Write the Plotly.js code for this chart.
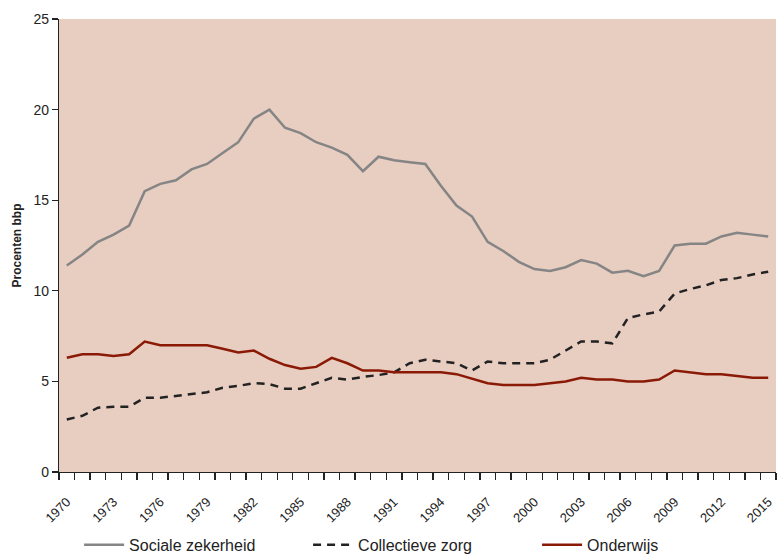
<!DOCTYPE html>
<html>
<head>
<meta charset="utf-8">
<script src="https://cdn.plot.ly/plotly-3.0.1.min.js"></script>
<style>
  html, body { margin: 0; padding: 0; background: #fff; }
  #chart { width: 777px; height: 554px; }
</style>
</head>
<body>
<div id="chart"></div>
<script>
// jaren 1970-2015
const years = [];
for (let y = 1970; y <= 2015; y++) years.push(y);

const tickYears = [1970, 1973, 1976, 1979, 1982, 1985, 1988, 1991, 1994, 1997,
  2000, 2003, 2006, 2009, 2012, 2015];

const socialeZekerheid = [11.4, 12.0, 12.7, 13.1, 13.6, 15.5, 15.9, 16.1, 16.7, 17.0,
  17.6, 18.2, 19.5, 20.0, 19.0, 18.7, 18.2, 17.9, 17.5, 16.6,
  17.4, 17.2, 17.1, 17.0, 15.8, 14.7, 14.1, 12.7, 12.2, 11.6,
  11.2, 11.1, 11.3, 11.7, 11.5, 11.0, 11.1, 10.8, 11.1, 12.5,
  12.6, 12.6, 13.0, 13.2, 13.1, 13.0];

const collectieveZorg = [2.9, 3.1, 3.55, 3.6, 3.6, 4.1, 4.1, 4.2, 4.3, 4.4,
  4.65, 4.75, 4.9, 4.85, 4.6, 4.6, 4.9, 5.2, 5.1, 5.25,
  5.35, 5.5, 6.0, 6.2, 6.1, 6.0, 5.6, 6.1, 6.0, 6.0,
  6.0, 6.2, 6.7, 7.2, 7.2, 7.1, 8.5, 8.7, 8.85, 9.85,
  10.1, 10.3, 10.6, 10.7, 10.9, 11.05];

const onderwijs = [6.3, 6.5, 6.5, 6.4, 6.5, 7.2, 7.0, 7.0, 7.0, 7.0,
  6.8, 6.6, 6.7, 6.25, 5.9, 5.7, 5.8, 6.3, 6.0, 5.6,
  5.6, 5.5, 5.5, 5.5, 5.5, 5.4, 5.15, 4.9, 4.8, 4.8,
  4.8, 4.9, 5.0, 5.2, 5.1, 5.1, 5.0, 5.0, 5.1, 5.6,
  5.5, 5.4, 5.4, 5.3, 5.2, 5.2];

// the axis runs from half a year before the first to half a year after the last
const xRange = [years[0] - 0.5, years[years.length - 1] + 0.5];

const font = "Liberation Sans, Arial, sans-serif";
const ink = "#222222";

const traces = [
  {
    x: years,
    y: socialeZekerheid,
    name: "Sociale zekerheid",
    type: "scatter",
    mode: "lines",
    line: { color: "#858585", width: 2.5 },
  },
  {
    x: years,
    y: collectieveZorg,
    name: "Collectieve zorg",
    type: "scatter",
    mode: "lines",
    line: { color: ink, width: 2.5, dash: "8px,6px" },
  },
  {
    x: years,
    y: onderwijs,
    name: "Onderwijs",
    type: "scatter",
    mode: "lines",
    line: { color: "#8a1a06", width: 2.5 },
  },
];

const layout = {
  width: 777,
  height: 554,
  margin: { l: 59, r: 1, t: 19, b: 82, autoexpand: false },
  paper_bgcolor: "#ffffff",
  plot_bgcolor: "#e8cdc1",
  font: { family: font, color: ink, size: 14 },
  showlegend: true,
  legend: {
    orientation: "h",
    x: 0.028,
    xanchor: "left",
    y: -0.161,
    yanchor: "middle",
    itemwidth: 40,
    entrywidth: 174,
    font: { family: font, size: 16, color: ink },
    bgcolor: "rgba(0,0,0,0)",
  },
  xaxis: {
    type: "linear",
    range: xRange,
    // labels every 3 years, small tick marks between the years
    tickmode: "linear",
    tick0: tickYears[0],
    dtick: tickYears[1] - tickYears[0],
    tickangle: -45,
    ticks: "outside",
    ticklen: 16,
    tickwidth: 1,
    tickcolor: "rgba(0,0,0,0)",
    tickfont: { family: font, size: 13, color: ink },
    minor: {
      tickmode: "linear",
      tick0: xRange[0],
      dtick: 1,
      ticks: "outside",
      ticklen: 7,
      tickwidth: 1.4,
      tickcolor: ink,
      showgrid: false,
    },
    showline: true,
    linecolor: ink,
    linewidth: 1.2,
    showgrid: false,
    zeroline: false,
    automargin: false,
    fixedrange: true,
  },
  yaxis: {
    range: [0, 25],
    dtick: 5,
    tick0: 0,
    ticks: "outside",
    ticklen: 6,
    tickwidth: 1.4,
    tickcolor: ink,
    tickfont: { family: font, size: 14, color: ink },
    showline: true,
    linecolor: ink,
    linewidth: 1.2,
    showgrid: false,
    zeroline: false,
    automargin: false,
    title: {
      text: "<b>Procenten bbp</b>",
      font: { family: font, size: 12, color: ink },
      standoff: 9,
    },
    fixedrange: true,
  },
};

Plotly.newPlot("chart", traces, layout, { displayModeBar: false, staticPlot: true });
</script>
</body>
</html>
